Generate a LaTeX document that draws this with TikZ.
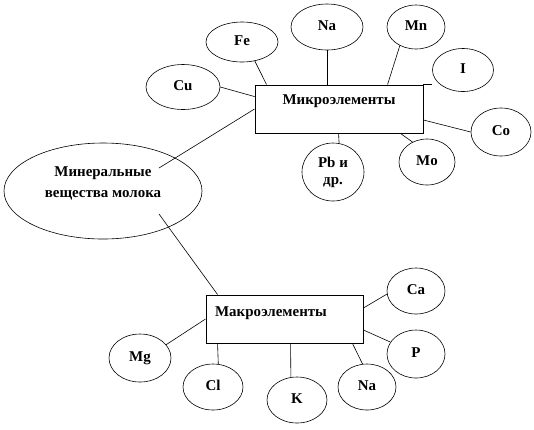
\documentclass[tikz,border=0pt]{standalone}
\usepackage{fontspec}
\setmainfont{Liberation Serif}
\usetikzlibrary{shapes.geometric}
\begin{document}
\begin{tikzpicture}[x=1bp,y=-1bp,
  txt/.style={font=\bfseries\fontsize{15}{16}\selectfont},
  elbase/.style={draw, ellipse, inner sep=0pt, line width=0.6bp, txt},
  el/.style={elbase, text height=10bp, text depth=4bp},
  box/.style={draw, rectangle, inner sep=0pt, line width=0.9bp},
  lbl/.style={txt, inner sep=0pt, align=center},
  conn/.style={line width=0.6bp}]
\useasboundingbox[fill=white] (0,0) rectangle (534,429);

% main ellipse
\node[elbase, minimum width=198bp, minimum height=96bp] (main) at (103,191) {};
\node[lbl, font=\bfseries\fontsize{15}{21}\selectfont] (mainlbl) at (103,183) {Минеральные\\вещества молока};

% micro elements
\node[box, minimum width=168bp, minimum height=48bp] (micro) at (339,109) {};
\node[lbl] (microlbl) at (339,101) {Микроэлементы};
\node[el, minimum width=72bp, minimum height=40bp] (fe) at (242,42) {Fe};
\node[el, minimum width=72bp, minimum height=46bp] (na) at (327,27) {Na};
\node[el, minimum width=58bp, minimum height=44bp] (mn) at (416,27) {Mn};
\node[el, minimum width=61bp, minimum height=43bp] (i) at (463,70) {I};
\node[el, minimum width=74bp, minimum height=45bp] (cu) at (183,87) {Cu};
\node[el, minimum width=60bp, minimum height=48bp] (co) at (501,132) {Co};
\node[el, minimum width=56bp, minimum height=46bp] (mo) at (427,162) {Mo};
\node[elbase, minimum width=62bp, minimum height=58bp, align=center,
      font=\bfseries\fontsize{15}{17}\selectfont] (pb) at (333,172) {Pb и\\др.};

% macro elements
\node[box, minimum width=157bp, minimum height=48bp] (macro) at (284.5,319) {};
\node[lbl] (macrolbl) at (271,313) {Макроэлементы};
\node[el, minimum width=58bp, minimum height=46bp] (ca) at (416,291) {Ca};
\node[el, minimum width=58bp, minimum height=48bp] (p) at (416,354) {P};
\node[el, minimum width=62bp, minimum height=48bp] (mg) at (140,358) {Mg};
\node[el, minimum width=60bp, minimum height=46bp] (cl) at (213,387) {Cl};
\node[el, minimum width=60bp, minimum height=46bp] (k) at (297,400) {K};
\node[el, minimum width=58bp, minimum height=46bp] (na2) at (367,387) {Na};

% connectors: main
\draw[conn] ([shift={(56bp,23bp)}]main.center) -- (micro.west);
\draw[conn] ([shift={(56bp,-23bp)}]main.center) -- ([xshift=12bp]macro.north west);

% connectors: micro
\draw[conn] (cu.east) -- ([yshift=-12bp]micro.north west);
\draw[conn] (fe.-56) -- ([xshift=12bp]micro.north west);
\draw[conn] (na.south) -- (na.south |- micro.north);
\draw[conn] (mn.-131) -- ([xshift=133bp]micro.north west);
\draw[conn] (micro.north east) -- (i.west |- micro.north east);
\draw[conn] ([yshift=-11bp]micro.east) -- (co.west);
\draw[conn] ([xshift=-23bp]micro.south east) -- (mo.126);
\draw[conn] ([xshift=84bp]micro.south west) -- (pb.78);

% connectors: macro
\draw[conn] ([yshift=11bp]macro.east) -- (ca.186);
\draw[conn] ([yshift=-11bp]macro.east) -- (p.155);
\draw[conn] (macro.west) -- (mg.27);
\draw[conn] ([xshift=12bp]macro.south west) -- (cl.77);
\draw[conn] ([xshift=85bp]macro.south west) -- (k.105);
\draw[conn] ([xshift=-11bp]macro.south east) -- (na2.101);
\end{tikzpicture}
\end{document}
